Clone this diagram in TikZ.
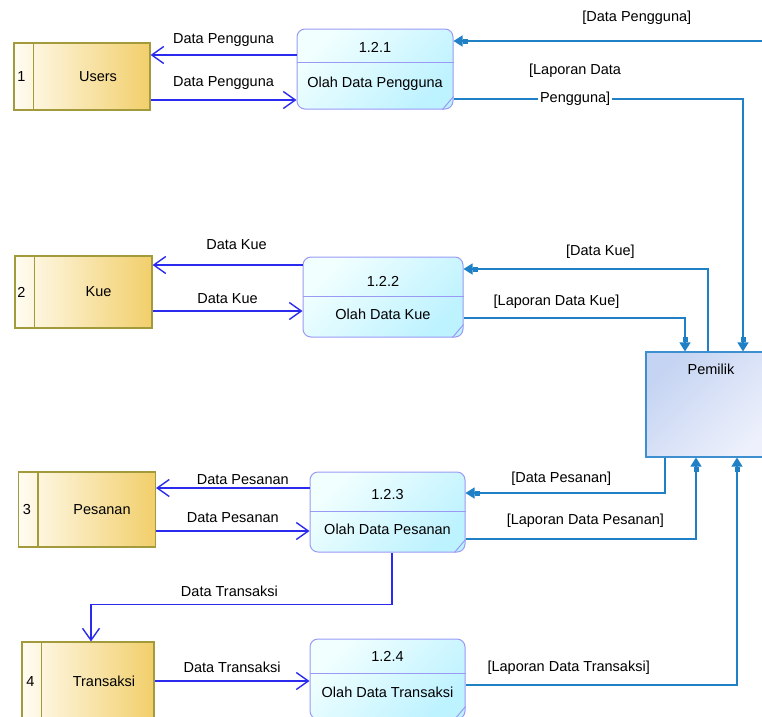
\documentclass[tikz,border=0pt]{standalone}
\usepackage{fontspec}
\setmainfont{Liberation Sans}
\usetikzlibrary{arrows.meta,positioning}

\definecolor{storeb}{HTML}{A39B3B}
\definecolor{storel}{HTML}{FFFCF2}
\definecolor{storer}{HTML}{F2CF6B}
\definecolor{procb}{HTML}{9A9AF5}
\definecolor{procl}{HTML}{F2FFFF}
\definecolor{procr}{HTML}{BDF2FF}
\definecolor{flowc}{HTML}{2B2BF0}
\definecolor{extc}{HTML}{1F80C6}
\definecolor{ownb}{HTML}{3D8FCF}
\definecolor{ownl}{HTML}{C5D4F2}
\definecolor{ownr}{HTML}{EEF1FC}

\tikzset{
  store/.style={draw=storeb, line width=1.1pt, left color=storel, right color=storer},
  storeline/.style={draw=storeb, line width=1.1pt},
  % diagonal fill, light top left
  olah/.style={draw=procb, line width=1pt, rounded corners=8pt, left color=procl, right color=procr, shading angle=45},
  olahline/.style={draw=procb, line width=1pt},
  owner/.style={draw=ownb, line width=1.1pt, left color=ownl, right color=ownr, shading angle=45},
  flow/.style={draw=flowc, line width=1.4pt, -{Straight Barb[length=12pt,width=17pt]}},
  ext/.style={draw=extc, line width=1.2pt, -{Rectangle[length=5pt,width=5pt,sep=0pt]Triangle[length=9pt,width=11pt]}},
}

\begin{document}
\begin{tikzpicture}[x=1pt,y=-1pt,
  every node/.style={font=\fontsize{14.5}{16}\selectfont, inner sep=0pt}]
  \clip (0,0) rectangle (762,716);
  % data stores
  \node[store, minimum width=136pt, minimum height=67pt] (users) at (82,76.5) {};
  \draw[storeline] ([xshift=20pt]users.north west) -- ([xshift=20pt]users.south west);
  \node (usersno) at ([xshift=8pt]users.west) {1};
  \node (userslbl) at ([xshift=16pt]users.center) {Users};
  \node[store, minimum width=137pt, minimum height=72pt] (kue) at (83.5,292) {};
  \draw[storeline] ([xshift=20pt]kue.north west) -- ([xshift=20pt]kue.south west);
  \node (kueno) at ([xshift=7pt]kue.west) {2};
  \node (kuelbl) at ([xshift=15pt]kue.center) {Kue};
  \node[store, minimum width=137pt, minimum height=75pt] (pesanan) at (87,509.5) {};
  \draw[storeline] ([xshift=20pt]pesanan.north west) -- ([xshift=20pt]pesanan.south west);
  \node (pesananno) at ([xshift=9pt]pesanan.west) {3};
  \node (pesananlbl) at ([xshift=15pt]pesanan.center) {Pesanan};
  \node[store, minimum width=132pt, minimum height=78pt] (trans) at (88,681) {};
  \draw[storeline] ([xshift=20pt]trans.north west) -- ([xshift=20pt]trans.south west);
  \node (transno) at ([xshift=9pt]trans.west) {4};
  \node (translbl) at ([xshift=16pt]trans.center) {Transaksi};
  % processes
  \node[olah, minimum width=156pt, minimum height=80pt] (p1) at (375,69) {};
  \draw[olahline] ([yshift=-34pt]p1.north west) -- ([yshift=-34pt]p1.north east);
  \draw[olahline] ([yshift=13pt]p1.south east) -- ([xshift=-11pt]p1.south east);
  \node (p1id) at ([yshift=-19pt]p1.north) {1.2.1};
  \node (p1nm) at ([yshift=-55pt]p1.north) {Olah Data Pengguna};
  \node[olah, minimum width=160pt, minimum height=80pt] (p2) at (383,297) {};
  \draw[olahline] ([yshift=-40pt]p2.north west) -- ([yshift=-40pt]p2.north east);
  \draw[olahline] ([yshift=13pt]p2.south east) -- ([xshift=-11pt]p2.south east);
  \node (p2id) at ([yshift=-25pt]p2.north) {1.2.2};
  \node (p2nm) at ([yshift=-58pt]p2.north) {Olah Data Kue};
  \node[olah, minimum width=155pt, minimum height=80pt] (p3) at (387.5,512) {};
  \draw[olahline] ([yshift=-40pt]p3.north west) -- ([yshift=-40pt]p3.north east);
  \draw[olahline] ([yshift=13pt]p3.south east) -- ([xshift=-11pt]p3.south east);
  \node (p3id) at ([yshift=-23pt]p3.north) {1.2.3};
  \node (p3nm) at ([yshift=-58pt]p3.north) {Olah Data Pesanan};
  \node[olah, minimum width=155pt, minimum height=80pt] (p4) at (387.5,679) {};
  \draw[olahline] ([yshift=-35pt]p4.north west) -- ([yshift=-35pt]p4.north east);
  \draw[olahline] ([yshift=13pt]p4.south east) -- ([xshift=-11pt]p4.south east);
  \node (p4id) at ([yshift=-18pt]p4.north) {1.2.4};
  \node (p4nm) at ([yshift=-54pt]p4.north) {Olah Data Transaksi};
  % external entity
  \node[owner, minimum width=130pt, minimum height=105pt] (own) at (711,404.5) {};
  \node (ownlbl) at ([yshift=-18pt]own.north) {Pemilik};
  % flows between stores and processes
  \coordinate (a1) at ([yshift=14pt]p1.west);
  \draw[flow] (a1) -- (a1 -| users.east) node[midway, above=8pt] {Data Pengguna};
  \coordinate (a2) at ([yshift=-23.5pt]users.east);
  \draw[flow] (a2) -- (a2 -| p1.west) node[midway, above=10pt] {Data Pengguna};
  \coordinate (c1) at ([yshift=32pt]p2.west);
  \draw[flow] (c1) -- (c1 -| kue.east) node[midway, above=15pt, xshift=9pt] {Data Kue};
  \coordinate (c2) at ([yshift=-19pt]kue.east);
  \draw[flow] (c2) -- (c2 -| p2.west) node[midway, above=7pt] {Data Kue};
  \coordinate (d1) at ([yshift=24pt]p3.west);
  \draw[flow] (d1) -- (d1 -| pesanan.east) node[midway, above=3pt, xshift=10pt] {Data Pesanan};
  \coordinate (d2) at ([yshift=-21.5pt]pesanan.east);
  \draw[flow] (d2) -- (d2 -| p3.west) node[midway, above=8pt] {Data Pesanan};
  \draw[flow] ([xshift=4.5pt]p3.south) -- ++(0,52) -| ([xshift=3pt]trans.north)
    node[pos=0.27, above=7pt] {Data Transaksi};
  \draw[flow] (trans.east) -- (trans.east -| p4.west) node[midway, above=8pt] {Data Transaksi};
  % flows with Pemilik
  \coordinate (pgin) at (775,41);
  \draw[ext] (pgin) -- (pgin -| p1.east) node[pos=0.43, above=16pt] {[Data Pengguna]};
  \coordinate (b1) at ([yshift=-30pt]p1.east);
  \draw[ext] (b1) -| ([xshift=32pt]own.north)
    node[pos=0.21, fill=white, inner xsep=2pt, inner ysep=1pt] (lap1b) {Pengguna]};
  \node[above=13pt of lap1b] (lap1a) {[Laporan Data};
  \draw[ext] ([xshift=-3pt]own.north) |- ([yshift=28pt]p2.east)
    node[pos=0.72, above=10pt] {[Data Kue]};
  \coordinate (b2) at ([yshift=-21pt]p2.east);
  \draw[ext] (b2) -| ([xshift=-26pt]own.north) node[pos=0.21, above=9pt] {[Laporan Data Kue]};
  \draw[ext] ([xshift=-46pt]own.south) |- ([yshift=19pt]p3.east)
    node[pos=0.76, above=7pt] {[Data Pesanan]};
  \coordinate (b3) at ([yshift=-27pt]p3.east);
  \draw[ext] (b3) -| ([xshift=-15pt]own.south) node[pos=0.26, above=11pt] {[Laporan Data Pesanan]};
  \coordinate (b4) at ([yshift=-6pt]p4.east);
  \draw[ext] (b4) -| ([xshift=26pt]own.south) node[pos=0.19, above=10pt] {[Laporan Data Transaksi]};
\end{tikzpicture}
\end{document}
